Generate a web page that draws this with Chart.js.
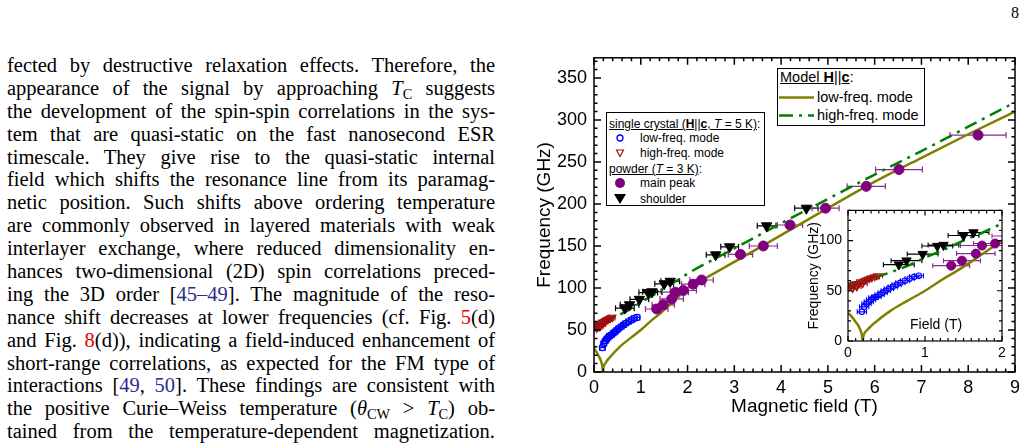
<!DOCTYPE html>
<html>
<head>
<meta charset="utf-8">
<script src="https://cdn.jsdelivr.net/npm/chart.js@4.4.0/dist/chart.umd.min.js"></script>
<style>
  body { margin:0; width:1028px; height:446px; overflow:hidden; background:#fff; position:relative; }
  #text { position:absolute; left:7px; top:54px; width:488px; font-family:"Liberation Serif", "Times New Roman", serif; font-size:20.5px; line-height:22.9px; color:#000; }
  #text div { text-align:justify; text-align-last:justify; height:22.9px; }
  .sub { font-size:0.7em; vertical-align:-0.3em; line-height:0; }
  .cite { color:#2a2a8f; }
  .ref { color:#e00000; }
  #page { position:absolute; left:1011px; top:4px; font-family:"Liberation Serif", serif; font-size:16px; }
  #main { position:absolute; left:520px; top:40px; }
  #inset { position:absolute; left:795px; top:196px; z-index:2; }
  .lg { position:absolute; box-sizing:border-box; background:#fff; border:1px solid #000; font-family:"Liberation Sans", Arial, sans-serif; color:#000; z-index:5; }
  .row { position:absolute; white-space:nowrap; }
  .row svg { position:absolute; }
  #fieldLabel { position:absolute; left:910px; top:316px; font-family:"Liberation Sans", Arial, sans-serif; font-size:14px; line-height:16px; z-index:3; }
</style>
</head>
<body>
<div id="text">
  <div>fected by destructive relaxation effects. Therefore, the</div>
  <div>appearance of the signal by approaching <i>T</i><span class="sub">C</span> suggests</div>
  <div>the development of the spin-spin correlations in the sys-</div>
  <div>tem that are quasi-static on the fast nanosecond ESR</div>
  <div>timescale. They give rise to the quasi-static internal</div>
  <div>field which shifts the resonance line from its paramag-</div>
  <div>netic position. Such shifts above ordering temperature</div>
  <div>are commonly observed in layered materials with weak</div>
  <div>interlayer exchange, where reduced dimensionality en-</div>
  <div>hances two-dimensional (2D) spin correlations preced-</div>
  <div>ing the 3D order [<span class="cite">45–49</span>]. The magnitude of the reso-</div>
  <div>nance shift decreases at lower frequencies (cf. Fig. <span class="ref">5</span>(d)</div>
  <div>and Fig. <span class="ref">8</span>(d)), indicating a field-induced enhancement of</div>
  <div>short-range correlations, as expected for the FM type of</div>
  <div>interactions [<span class="cite">49</span>, <span class="cite">50</span>]. These findings are consistent with</div>
  <div>the positive Curie–Weiss temperature (<i>θ</i><span class="sub">CW</span> &gt; <i>T</i><span class="sub">C</span>) ob-</div>
  <div>tained from the temperature-dependent magnetization.</div>
</div>
<div id="page">8</div>

<canvas id="main" width="508" height="406"></canvas>
<canvas id="inset" width="220" height="170"></canvas>
<div id="fieldLabel">Field (T)</div>

<div class="lg" style="left:606px;top:112px;width:159px;height:94px;font-size:12px;">
  <div class="row" style="left:2px;top:4px;line-height:14px;"><u>single crystal (<b>H</b>||<b>c</b>, <i>T</i> = 5 K)</u>:</div>
  <div class="row" style="left:0;top:18px;line-height:14px;width:150px;">
    <svg style="left:7px;top:1px" width="12" height="12"><circle cx="6" cy="6" r="3" fill="none" stroke="#0000ff" stroke-width="1.3"/></svg>
    <span style="position:absolute;left:33px;">low-freq. mode</span></div>
  <div class="row" style="left:0;top:33px;line-height:14px;width:150px;">
    <svg style="left:7px;top:1px" width="12" height="12"><polygon points="2.5,3 9.5,3 6,9.5" fill="none" stroke="#a01010" stroke-width="1.2"/></svg>
    <span style="position:absolute;left:33px;">high-freq. mode</span></div>
  <div class="row" style="left:2px;top:49px;line-height:14px;"><u>powder (<i>T</i> = 3 K)</u>:</div>
  <div class="row" style="left:0;top:63px;line-height:14px;width:150px;">
    <svg style="left:7px;top:1px" width="12" height="12"><circle cx="6" cy="6" r="5" fill="#800080"/></svg>
    <span style="position:absolute;left:33px;">main peak</span></div>
  <div class="row" style="left:0;top:79px;line-height:14px;width:150px;">
    <svg style="left:6px;top:1px" width="14" height="12"><polygon points="1,1 13,1 7,11" fill="#000"/></svg>
    <span style="position:absolute;left:33px;">shoulder</span></div>
</div>

<div class="lg" style="left:777px;top:68px;width:148px;height:58px;font-size:14.5px;">
  <div class="row" style="left:2px;top:0px;line-height:17px;"><u>Model <b>H</b>||<b>c</b></u>:</div>
  <div class="row" style="left:0;top:20px;line-height:17px;width:146px;">
    <svg style="left:1px;top:0" width="36" height="17"><line x1="0" y1="8.5" x2="35" y2="8.5" stroke="#808000" stroke-width="2.5"/></svg>
    <span style="position:absolute;left:39px;">low-freq. mode</span></div>
  <div class="row" style="left:0;top:38px;line-height:17px;width:146px;">
    <svg style="left:1px;top:0" width="36" height="17"><line x1="0" y1="8.5" x2="35" y2="8.5" stroke="#008000" stroke-width="2.5" stroke-dasharray="14 6 3 6"/></svg>
    <span style="position:absolute;left:39px;">high-freq. mode</span></div>
</div>

<script>
// model curves, H||c
const lowModelField = [0, 0.05, 0.1, 0.15, 0.18, 0.19, 0.2, 0.25, 0.33, 0.55, 0.77, 1, 1.2, 1.42, 1.64, 1.85, 2, 2.33, 3, 4, 5, 5.82, 7, 8, 9];
const lowModelFreq  = [28, 24, 19, 13, 6, 0, 5, 11, 17, 30, 40, 50, 60, 70, 81, 92, 100, 110, 131, 163, 195, 221, 255, 283, 310];
const highModelField = [0, 0.25, 0.5, 0.75, 1, 1.25, 1.5, 1.75, 2, 3, 4, 5, 6, 7, 8, 9];
const highModelFreq  = [57, 61, 67, 74, 83, 91, 100, 108, 117, 147, 177, 206, 235, 263, 292, 321];

// single crystal, T = 5 K
const xtalLowField = [0.18, 0.21, 0.24, 0.27, 0.30, 0.33, 0.37, 0.41, 0.45, 0.49, 0.53, 0.58, 0.63, 0.68, 0.74, 0.80, 0.86, 0.92];
const xtalLowFreq  = [29, 34, 37, 39, 41, 43, 44, 46, 48, 50, 52, 54, 56, 58, 60, 62, 64, 65];
const xtalLowErr   = [0.06, 0.06, 0.06, 0.06, 0.06, 0.06, 0.06, 0.06, 0.06, 0.06, 0.06, 0.06, 0.06, 0.06, 0.06, 0.06, 0.06, 0.06];
const xtalHighField = [0.01, 0.04, 0.06, 0.09, 0.11, 0.14, 0.17, 0.19, 0.22, 0.25, 0.28, 0.31, 0.35, 0.39];
const xtalHighFreq  = [53, 55, 52, 57, 54, 56, 59, 57, 60, 61, 62, 63, 64, 65];
const xtalHighErr   = [0.06, 0.06, 0.06, 0.06, 0.06, 0.06, 0.06, 0.06, 0.06, 0.06, 0.06, 0.06, 0.06, 0.06];

// powder, T = 3 K
const peakField = [1.34, 1.48, 1.66, 1.74, 1.91, 2.12, 2.30, 3.13, 3.62, 4.19, 4.95, 5.82, 6.52, 8.21];
const peakFreq  = [75, 80, 87, 95, 97, 104.5, 109.5, 140, 150, 175, 195, 221, 241, 282];
const peakErr   = [0.24, 0.24, 0.25, 0.28, 0.28, 0.25, 0.25, 0.26, 0.3, 0.27, 0.29, 0.41, 0.5, 0.6];
const shoulderField = [0.66, 0.76, 0.97, 1.16, 1.24, 1.5, 1.63, 2.6, 2.9, 3.69, 4.54];
const shoulderFreq  = [76, 80, 86.5, 94.5, 95.5, 105, 108, 139.5, 149, 174, 195];
const shoulderErr   = [0.2, 0.2, 0.2, 0.2, 0.2, 0.2, 0.2, 0.2, 0.19, 0.2, 0.25];

const FONT = '"Liberation Sans", Arial, sans-serif';

function pts(xs, ys) { return xs.map((v, i) => ({x: v, y: ys[i]})); }

// inward ticks on all four sides plus the frame
const boxTicks = {
  id: 'boxTicks',
  afterDatasetsDraw(chart, args, o) {
    const {ctx, chartArea: a, scales: {x, y}} = chart;
    ctx.save();
    ctx.strokeStyle = '#000';
    ctx.lineWidth = o.width;
    ctx.beginPath();
    const isMajor = (v, step) => Math.abs(v / step - Math.round(v / step)) < 1e-6;
    for (let v = x.min; v <= x.max + 1e-9; v += o.xMinor) {
      const p = x.getPixelForValue(v), len = isMajor(v, o.xMajor) ? o.major : o.minor;
      ctx.moveTo(p, a.bottom); ctx.lineTo(p, a.bottom - len);
      ctx.moveTo(p, a.top); ctx.lineTo(p, a.top + len);
    }
    for (let v = y.min; v <= y.max + 1e-9; v += o.yMinor) {
      const p = y.getPixelForValue(v), len = isMajor(v, o.yMajor) ? o.major : o.minor;
      ctx.moveTo(a.left, p); ctx.lineTo(a.left + len, p);
      ctx.moveTo(a.right, p); ctx.lineTo(a.right - len, p);
    }
    ctx.stroke();
    ctx.strokeRect(a.left, a.top, a.width, a.height);
    ctx.restore();
  }
};

// horizontal error bars with caps
const xErrorBars = {
  id: 'xErrorBars',
  beforeDatasetsDraw(chart, args, o) {
    const {ctx, chartArea: a, scales: {x, y}} = chart;
    ctx.save();
    ctx.beginPath(); ctx.rect(a.left, a.top, a.width, a.height); ctx.clip();
    ctx.lineWidth = o.width;
    chart.data.datasets.forEach(ds => {
      if (!ds.xErr) return;
      ctx.strokeStyle = ds.errColor;
      ctx.beginPath();
      ds.data.forEach((p, i) => {
        const x0 = x.getPixelForValue(p.x - ds.xErr[i]);
        const x1 = x.getPixelForValue(p.x + ds.xErr[i]);
        const py = y.getPixelForValue(p.y);
        ctx.moveTo(x0, py); ctx.lineTo(x1, py);
        ctx.moveTo(x0, py - o.cap); ctx.lineTo(x0, py + o.cap);
        ctx.moveTo(x1, py - o.cap); ctx.lineTo(x1, py + o.cap);
      });
      ctx.stroke();
    });
    ctx.restore();
  }
};

const whiteArea = {
  id: 'whiteArea',
  beforeDraw(chart) {
    const {ctx, chartArea: a} = chart;
    ctx.save();
    ctx.fillStyle = '#fff';
    ctx.fillRect(a.left, a.top, a.width, a.height);
    ctx.restore();
  }
};

function makeDatasets(k, lw) {
  return [
    {label: 'shoulder', data: pts(shoulderField, shoulderFreq), xErr: shoulderErr, errColor: '#000',
     pointStyle: 'triangle', pointRotation: 180, pointRadius: 6 * k, backgroundColor: '#000', borderColor: '#000', borderWidth: 1, order: 1},
    {label: 'main peak', data: pts(peakField, peakFreq), xErr: peakErr, errColor: '#8e2a8e',
     pointStyle: 'circle', pointRadius: 5 * k, backgroundColor: '#800080', borderColor: '#800080', borderWidth: 1, order: 2},
    {label: 'high-freq. mode', data: pts(xtalHighField, xtalHighFreq), xErr: xtalHighErr, errColor: '#a01010',
     pointStyle: 'triangle', pointRotation: 180, pointRadius: 4.2 * k, backgroundColor: 'rgba(0,0,0,0)', borderColor: '#a01010', borderWidth: 1.1, order: 3},
    {label: 'low-freq. mode', data: pts(xtalLowField, xtalLowFreq), xErr: xtalLowErr, errColor: '#0000ff',
     pointStyle: 'circle', pointRadius: 3 * k, backgroundColor: 'rgba(0,0,0,0)', borderColor: '#0000ff', borderWidth: 1.2, order: 4},
    {label: 'model low', data: pts(lowModelField, lowModelFreq), showLine: true, cubicInterpolationMode: 'monotone',
     borderColor: '#808000', borderWidth: lw, pointRadius: 0, order: 6},
    {label: 'model high', data: pts(highModelField, highModelFreq), showLine: true, cubicInterpolationMode: 'monotone',
     borderColor: '#008000', borderWidth: lw, borderDash: [13, 6, 3, 6], pointRadius: 0, order: 5}
  ];
}

new Chart(document.getElementById('main'), {
  type: 'scatter',
  data: {datasets: makeDatasets(1, 2.5)},
  plugins: [boxTicks, xErrorBars],
  options: {
    responsive: false,
    animation: false,
    layout: {padding: {top: 15, right: 13, left: 0, bottom: 0}},
    plugins: {
      legend: {display: false},
      tooltip: {enabled: false},
      boxTicks: {xMinor: 0.2, xMajor: 1, yMinor: 10, yMajor: 50, major: 7, minor: 3.5, width: 1.5},
      xErrorBars: {width: 1.2, cap: 3}
    },
    scales: {
      x: {
        type: 'linear', min: 0, max: 9,
        grid: {display: false, drawTicks: false}, border: {display: false},
        ticks: {stepSize: 1, includeBounds: false, color: '#000', padding: 5, font: {family: FONT, size: 18}},
        title: {display: true, text: 'Magnetic field (T)', color: '#000', font: {family: FONT, size: 19}, padding: {top: 0, bottom: 28}},
        afterFit(s) { s.height = 74; }
      },
      y: {
        type: 'linear', min: 0, max: 374,
        grid: {display: false, drawTicks: false}, border: {display: false},
        ticks: {stepSize: 50, includeBounds: false, color: '#000', padding: 7, font: {family: FONT, size: 18}},
        title: {display: true, text: 'Frequency (GHz)', color: '#000', font: {family: FONT, size: 19}, padding: {top: 13, bottom: 0}},
        afterFit(s) { s.width = 74; }
      }
    }
  }
});

new Chart(document.getElementById('inset'), {
  type: 'scatter',
  data: {datasets: makeDatasets(0.9, 2.5)},
  plugins: [whiteArea, boxTicks, xErrorBars],
  options: {
    responsive: false,
    animation: false,
    layout: {padding: {top: 10, right: 13, left: 0, bottom: 0}},
    plugins: {
      legend: {display: false},
      tooltip: {enabled: false},
      boxTicks: {xMinor: 0.1, xMajor: 1, yMinor: 10, yMajor: 50, major: 5, minor: 3, width: 1.2},
      xErrorBars: {width: 1.1, cap: 2.5}
    },
    scales: {
      x: {
        type: 'linear', min: 0, max: 2,
        grid: {display: false, drawTicks: false}, border: {display: false},
        ticks: {stepSize: 1, includeBounds: false, color: '#000', padding: 4, font: {family: FONT, size: 14}},
        afterFit(s) { s.height = 25; }
      },
      y: {
        type: 'linear', min: 0, max: 130,
        grid: {display: false, drawTicks: false}, border: {display: false},
        ticks: {stepSize: 50, includeBounds: false, color: '#000', padding: 6, font: {family: FONT, size: 14}},
        title: {display: true, text: 'Frequency (GHz)', color: '#000', font: {family: FONT, size: 14}, padding: {top: 11, bottom: 0}},
        afterFit(s) { s.width = 53; }
      }
    }
  }
});
</script>
</body>
</html>
